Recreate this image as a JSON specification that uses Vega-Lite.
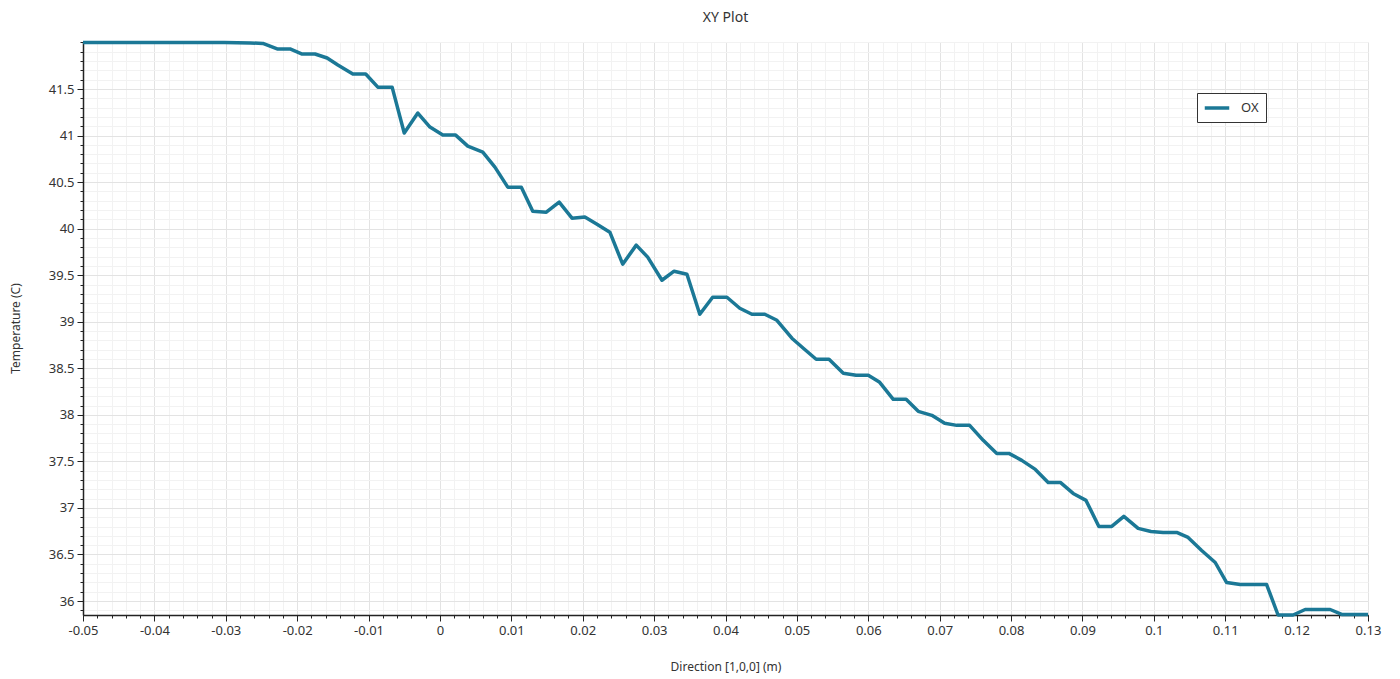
{
  "$schema": "https://vega.github.io/schema/vega-lite/v6.json",
  "width": 1285,
  "height": 573,
  "autosize": {"type": "none"},
  "padding": {"left": 83, "top": 42, "right": 32, "bottom": 64},
  "background": "white",
  "title": {"text": "XY Plot", "fontSize": 14, "font": "Noto Sans", "fontWeight": "normal", "color": "#333333", "offset": 16, "anchor": "middle"},
  "config": {
    "view": {"stroke": null},
    "axis": {"labelFont": "Noto Sans", "titleFont": "Noto Sans"},
    "legend": {"labelFont": "Noto Sans"}
  },
  "data": {"values": [
    {"x": -0.05, "t": 42.0, "series": "OX"},
    {"x": -0.0482, "t": 42.0, "series": "OX"},
    {"x": -0.0464, "t": 42.0, "series": "OX"},
    {"x": -0.0446, "t": 42.0, "series": "OX"},
    {"x": -0.0428, "t": 42.0, "series": "OX"},
    {"x": -0.041, "t": 42.0, "series": "OX"},
    {"x": -0.0392, "t": 42.0, "series": "OX"},
    {"x": -0.0374, "t": 42.0, "series": "OX"},
    {"x": -0.0356, "t": 42.0, "series": "OX"},
    {"x": -0.0338, "t": 42.0, "series": "OX"},
    {"x": -0.032, "t": 42.0, "series": "OX"},
    {"x": -0.0302, "t": 41.999, "series": "OX"},
    {"x": -0.0284, "t": 41.997, "series": "OX"},
    {"x": -0.0266, "t": 41.995, "series": "OX"},
    {"x": -0.0248, "t": 41.99, "series": "OX"},
    {"x": -0.0228, "t": 41.93, "series": "OX"},
    {"x": -0.021, "t": 41.93, "series": "OX"},
    {"x": -0.0193, "t": 41.876, "series": "OX"},
    {"x": -0.0175, "t": 41.876, "series": "OX"},
    {"x": -0.0158, "t": 41.833, "series": "OX"},
    {"x": -0.0143, "t": 41.758, "series": "OX"},
    {"x": -0.0122, "t": 41.661, "series": "OX"},
    {"x": -0.0104, "t": 41.661, "series": "OX"},
    {"x": -0.0087, "t": 41.52, "series": "OX"},
    {"x": -0.0067, "t": 41.52, "series": "OX"},
    {"x": -0.005, "t": 41.027, "series": "OX"},
    {"x": -0.0031, "t": 41.242, "series": "OX"},
    {"x": -0.0014, "t": 41.091, "series": "OX"},
    {"x": 0.0004, "t": 41.005, "series": "OX"},
    {"x": 0.0022, "t": 41.005, "series": "OX"},
    {"x": 0.0039, "t": 40.887, "series": "OX"},
    {"x": 0.006, "t": 40.823, "series": "OX"},
    {"x": 0.0077, "t": 40.661, "series": "OX"},
    {"x": 0.0095, "t": 40.446, "series": "OX"},
    {"x": 0.0114, "t": 40.446, "series": "OX"},
    {"x": 0.013, "t": 40.188, "series": "OX"},
    {"x": 0.0149, "t": 40.177, "series": "OX"},
    {"x": 0.0167, "t": 40.285, "series": "OX"},
    {"x": 0.0185, "t": 40.113, "series": "OX"},
    {"x": 0.0203, "t": 40.124, "series": "OX"},
    {"x": 0.022, "t": 40.048, "series": "OX"},
    {"x": 0.0238, "t": 39.962, "series": "OX"},
    {"x": 0.0256, "t": 39.618, "series": "OX"},
    {"x": 0.0275, "t": 39.823, "series": "OX"},
    {"x": 0.0291, "t": 39.694, "series": "OX"},
    {"x": 0.0311, "t": 39.446, "series": "OX"},
    {"x": 0.0328, "t": 39.543, "series": "OX"},
    {"x": 0.0346, "t": 39.511, "series": "OX"},
    {"x": 0.0364, "t": 39.081, "series": "OX"},
    {"x": 0.0382, "t": 39.263, "series": "OX"},
    {"x": 0.0402, "t": 39.263, "series": "OX"},
    {"x": 0.042, "t": 39.145, "series": "OX"},
    {"x": 0.0437, "t": 39.081, "series": "OX"},
    {"x": 0.0455, "t": 39.081, "series": "OX"},
    {"x": 0.0472, "t": 39.016, "series": "OX"},
    {"x": 0.0493, "t": 38.823, "series": "OX"},
    {"x": 0.0509, "t": 38.715, "series": "OX"},
    {"x": 0.0527, "t": 38.597, "series": "OX"},
    {"x": 0.0545, "t": 38.597, "series": "OX"},
    {"x": 0.0565, "t": 38.446, "series": "OX"},
    {"x": 0.0583, "t": 38.425, "series": "OX"},
    {"x": 0.06, "t": 38.425, "series": "OX"},
    {"x": 0.0616, "t": 38.349, "series": "OX"},
    {"x": 0.0635, "t": 38.167, "series": "OX"},
    {"x": 0.0653, "t": 38.167, "series": "OX"},
    {"x": 0.067, "t": 38.038, "series": "OX"},
    {"x": 0.0689, "t": 37.995, "series": "OX"},
    {"x": 0.0707, "t": 37.909, "series": "OX"},
    {"x": 0.0724, "t": 37.887, "series": "OX"},
    {"x": 0.0742, "t": 37.887, "series": "OX"},
    {"x": 0.0761, "t": 37.726, "series": "OX"},
    {"x": 0.078, "t": 37.586, "series": "OX"},
    {"x": 0.0797, "t": 37.586, "series": "OX"},
    {"x": 0.0815, "t": 37.511, "series": "OX"},
    {"x": 0.0834, "t": 37.414, "series": "OX"},
    {"x": 0.0852, "t": 37.274, "series": "OX"},
    {"x": 0.0869, "t": 37.274, "series": "OX"},
    {"x": 0.0887, "t": 37.156, "series": "OX"},
    {"x": 0.0905, "t": 37.081, "series": "OX"},
    {"x": 0.0923, "t": 36.801, "series": "OX"},
    {"x": 0.0941, "t": 36.801, "series": "OX"},
    {"x": 0.0958, "t": 36.909, "series": "OX"},
    {"x": 0.0978, "t": 36.78, "series": "OX"},
    {"x": 0.0996, "t": 36.747, "series": "OX"},
    {"x": 0.1013, "t": 36.737, "series": "OX"},
    {"x": 0.1032, "t": 36.737, "series": "OX"},
    {"x": 0.1048, "t": 36.683, "series": "OX"},
    {"x": 0.1067, "t": 36.543, "series": "OX"},
    {"x": 0.1086, "t": 36.414, "series": "OX"},
    {"x": 0.1102, "t": 36.199, "series": "OX"},
    {"x": 0.1121, "t": 36.177, "series": "OX"},
    {"x": 0.1139, "t": 36.177, "series": "OX"},
    {"x": 0.1158, "t": 36.177, "series": "OX"},
    {"x": 0.1174, "t": 35.85, "series": "OX"},
    {"x": 0.1195, "t": 35.85, "series": "OX"},
    {"x": 0.1212, "t": 35.909, "series": "OX"},
    {"x": 0.123, "t": 35.909, "series": "OX"},
    {"x": 0.1247, "t": 35.909, "series": "OX"},
    {"x": 0.1264, "t": 35.855, "series": "OX"},
    {"x": 0.1279, "t": 35.855, "series": "OX"},
    {"x": 0.13, "t": 35.855, "series": "OX"}
  ]},
  "resolve": {"axis": {"x": "independent", "y": "independent"}},
  "layer": [
    {
      "mark": {"type": "line", "strokeOpacity": 0},
      "encoding": {
        "x": {"field": "x", "type": "quantitative", "scale": {"domain": [-0.05, 0.13], "nice": false, "zero": false},
          "axis": {"orient": "bottom", "values": [-0.05,-0.048,-0.046,-0.044,-0.042,-0.04,-0.038,-0.036,-0.034,-0.032,-0.03,-0.028,-0.026,-0.024,-0.022,-0.02,-0.018,-0.016,-0.014,-0.012,-0.01,-0.008,-0.006,-0.004,-0.002,0,0.002,0.004,0.006,0.008,0.01,0.012,0.014,0.016,0.018,0.02,0.022,0.024,0.026,0.028,0.03,0.032,0.034,0.036,0.038,0.04,0.042,0.044,0.046,0.048,0.05,0.052,0.054,0.056,0.058,0.06,0.062,0.064,0.066,0.068,0.07,0.072,0.074,0.076,0.078,0.08,0.082,0.084,0.086,0.088,0.09,0.092,0.094,0.096,0.098,0.1,0.102,0.104,0.106,0.108,0.11,0.112,0.114,0.116,0.118,0.12,0.122,0.124,0.126,0.128,0.13],
            "grid": true, "gridColor": "#f2f2f2", "gridWidth": 1, "labels": false, "title": null, "domain": false,
            "ticks": true, "tickSize": 3, "tickColor": "#222222", "tickWidth": 1}},
        "y": {"field": "t", "type": "quantitative", "scale": {"domain": [35.85, 42.005], "nice": false, "zero": false},
          "axis": {"orient": "left", "values": [35.9,36,36.1,36.2,36.3,36.4,36.5,36.6,36.7,36.8,36.9,37,37.1,37.2,37.3,37.4,37.5,37.6,37.7,37.8,37.9,38,38.1,38.2,38.3,38.4,38.5,38.6,38.7,38.8,38.9,39,39.1,39.2,39.3,39.4,39.5,39.6,39.7,39.8,39.9,40,40.1,40.2,40.3,40.4,40.5,40.6,40.7,40.8,40.9,41,41.1,41.2,41.3,41.4,41.5,41.6,41.7,41.8,41.9,42],
            "grid": true, "gridColor": "#f2f2f2", "gridWidth": 1, "labels": false, "title": null, "domain": false,
            "ticks": true, "tickSize": 3, "tickColor": "#222222", "tickWidth": 1}}
      }
    },
    {
      "mark": {"type": "line", "strokeWidth": 3.5, "strokeJoin": "round"},
      "encoding": {
        "x": {"field": "x", "type": "quantitative", "scale": {"domain": [-0.05, 0.13], "nice": false, "zero": false},
          "axis": {"orient": "bottom", "values": [-0.05,-0.04,-0.03,-0.02,-0.01,0,0.01,0.02,0.03,0.04,0.05,0.06,0.07,0.08,0.09,0.1,0.11,0.12,0.13],
            "labelExpr": "'' + datum.value", "grid": true, "gridColor": "#e3e3e3", "gridWidth": 1,
            "domain": true, "domainColor": "#222222", "domainWidth": 1.5, "ticks": true, "tickSize": 6, "tickColor": "#222222", "tickWidth": 1,
            "labelFontSize": 13, "labelColor": "#333333", "labelPadding": 3, "labelFlush": false,
            "title": "Direction [1,0,0] (m)", "titleFontSize": 12, "titleFontWeight": "normal", "titleColor": "#333333", "titleY": 46}},
        "y": {"field": "t", "type": "quantitative", "scale": {"domain": [35.85, 42.005], "nice": false, "zero": false},
          "axis": {"orient": "left", "values": [36,36.5,37,37.5,38,38.5,39,39.5,40,40.5,41,41.5],
            "labelExpr": "'' + datum.value", "grid": true, "gridColor": "#e3e3e3", "gridWidth": 1,
            "domain": true, "domainColor": "#222222", "domainWidth": 1.5, "ticks": true, "tickSize": 6, "tickColor": "#222222", "tickWidth": 1,
            "labelFontSize": 13, "labelColor": "#333333", "labelPadding": 3,
            "title": "Temperature (C)", "titleFontSize": 12, "titleFontWeight": "normal", "titleColor": "#333333", "titleX": -61, "titleY": 286}},
        "color": {"field": "series", "type": "nominal", "scale": {"range": ["#1b7896"]},
          "legend": {"orient": "none", "legendX": 1114, "legendY": 51, "title": null, "symbolType": "M-2,0H2", "symbolStrokeWidth": 3.5, "symbolSize": 150,
            "symbolOffset": 5, "strokeColor": "#333333", "fillColor": "white", "padding": 7, "labelFontSize": 13, "labelColor": "#333333", "labelOffset": 16}}
      }
    }
  ]
}
